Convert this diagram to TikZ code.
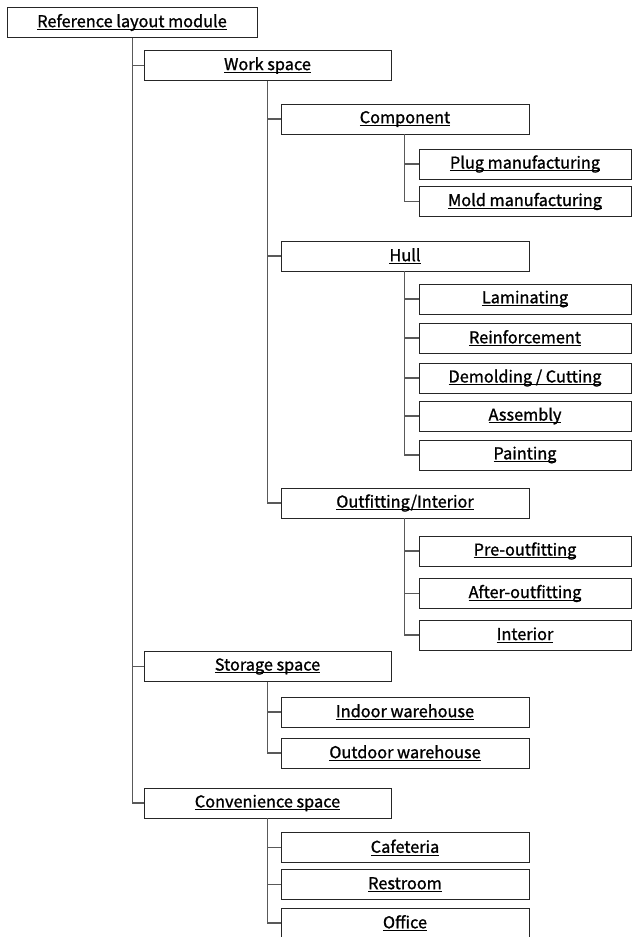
\documentclass[tikz,border=0pt]{standalone}
\usepackage{fontspec}
\setmainfont{Noto Sans CJK KR}[FakeBold=1.2]
\newsavebox\ulbox
\newcommand\ultext[1]{\sbox\ulbox{#1}\rlap{\rule[-2.6pt]{\wd\ulbox}{0.9pt}}\usebox\ulbox}
\begin{document}
\begin{tikzpicture}[x=1pt,y=-1pt,
	box/.style={draw=black!85,line width=0.9pt,minimum height=30pt,inner sep=0pt,
		font=\fontsize{16.3}{18}\selectfont},
	lvla/.style={box,minimum width=250pt},
	lvlb/.style={box,minimum width=247pt},
	lvlc/.style={box,minimum width=248pt},
	lvld/.style={box,minimum width=212pt},
	link/.style={draw=black!65,line width=1.1pt}]
			\useasboundingbox (0,0) rectangle (632,937);
			
			\node[lvla] (root) at (132, 22.5) {\ultext{Reference layout module}};
			
			\node[lvlb] (work) at (267.5, 65.5) {\ultext{Work space}};
			\node[lvlb] (storage) at (267.5, 666.5) {\ultext{Storage space}};
			\node[lvlb] (conv) at (267.5, 803) {\ultext{Convenience space}};
			
			\node[lvlc] (comp) at (405, 119) {\ultext{Component}};
			\node[lvlc] (hull) at (405, 256) {\ultext{Hull}};
			\node[lvlc] (outf) at (405, 503) {\ultext{Outfitting/Interior}};
			\node[lvlc] (indoor) at (405, 712) {\ultext{Indoor warehouse}};
			\node[lvlc] (outdoor) at (405, 753) {\ultext{Outdoor warehouse}};
			\node[lvlc] (cafe) at (405, 847.5) {\ultext{Cafeteria}};
			\node[lvlc] (rest) at (405, 884.5) {\ultext{Restroom}};
			\node[lvlc] (office) at (405, 923) {\ultext{Office}};
			
			\node[lvld] (plug) at (525, 164) {\ultext{Plug manufacturing}};
			\node[lvld] (mold) at (525, 201.5) {\ultext{Mold manufacturing}};
			\node[lvld] (lam) at (525, 299) {\ultext{Laminating}};
			\node[lvld] (reinf) at (525, 338) {\ultext{Reinforcement}};
			\node[lvld] (demold) at (525, 378) {\ultext{Demolding / Cutting}};
			\node[lvld] (assem) at (525, 416) {\ultext{Assembly}};
			\node[lvld] (paint) at (525, 455) {\ultext{Painting}};
			\node[lvld] (pre) at (525, 551) {\ultext{Pre-outfitting}};
			\node[lvld] (after) at (525, 593.5) {\ultext{After-outfitting}};
			\node[lvld] (inter) at (525, 635) {\ultext{Interior}};
			
			\foreach \kid in {work, storage, conv}
				\draw[link] ([xshift=126pt]root.south west) |- (\kid.west);
			\foreach \kid in {comp, hull, outf}
				\draw[link] ([xshift=124pt]work.south west) |- (\kid.west);
			\foreach \kid in {indoor, outdoor}
				\draw[link] ([xshift=124pt]storage.south west) |- (\kid.west);
			\foreach \kid in {cafe, rest, office}
				\draw[link] ([xshift=124pt]conv.south west) |- (\kid.west);
			\foreach \kid in {plug, mold}
				\draw[link] ([xshift=124pt]comp.south west) |- (\kid.west);
			\foreach \kid in {lam, reinf, demold, assem, paint}
				\draw[link] ([xshift=124pt]hull.south west) |- (\kid.west);
			\foreach \kid in {pre, after, inter}
				\draw[link] ([xshift=124pt]outf.south west) |- (\kid.west);
		\end{tikzpicture}
\end{document}
